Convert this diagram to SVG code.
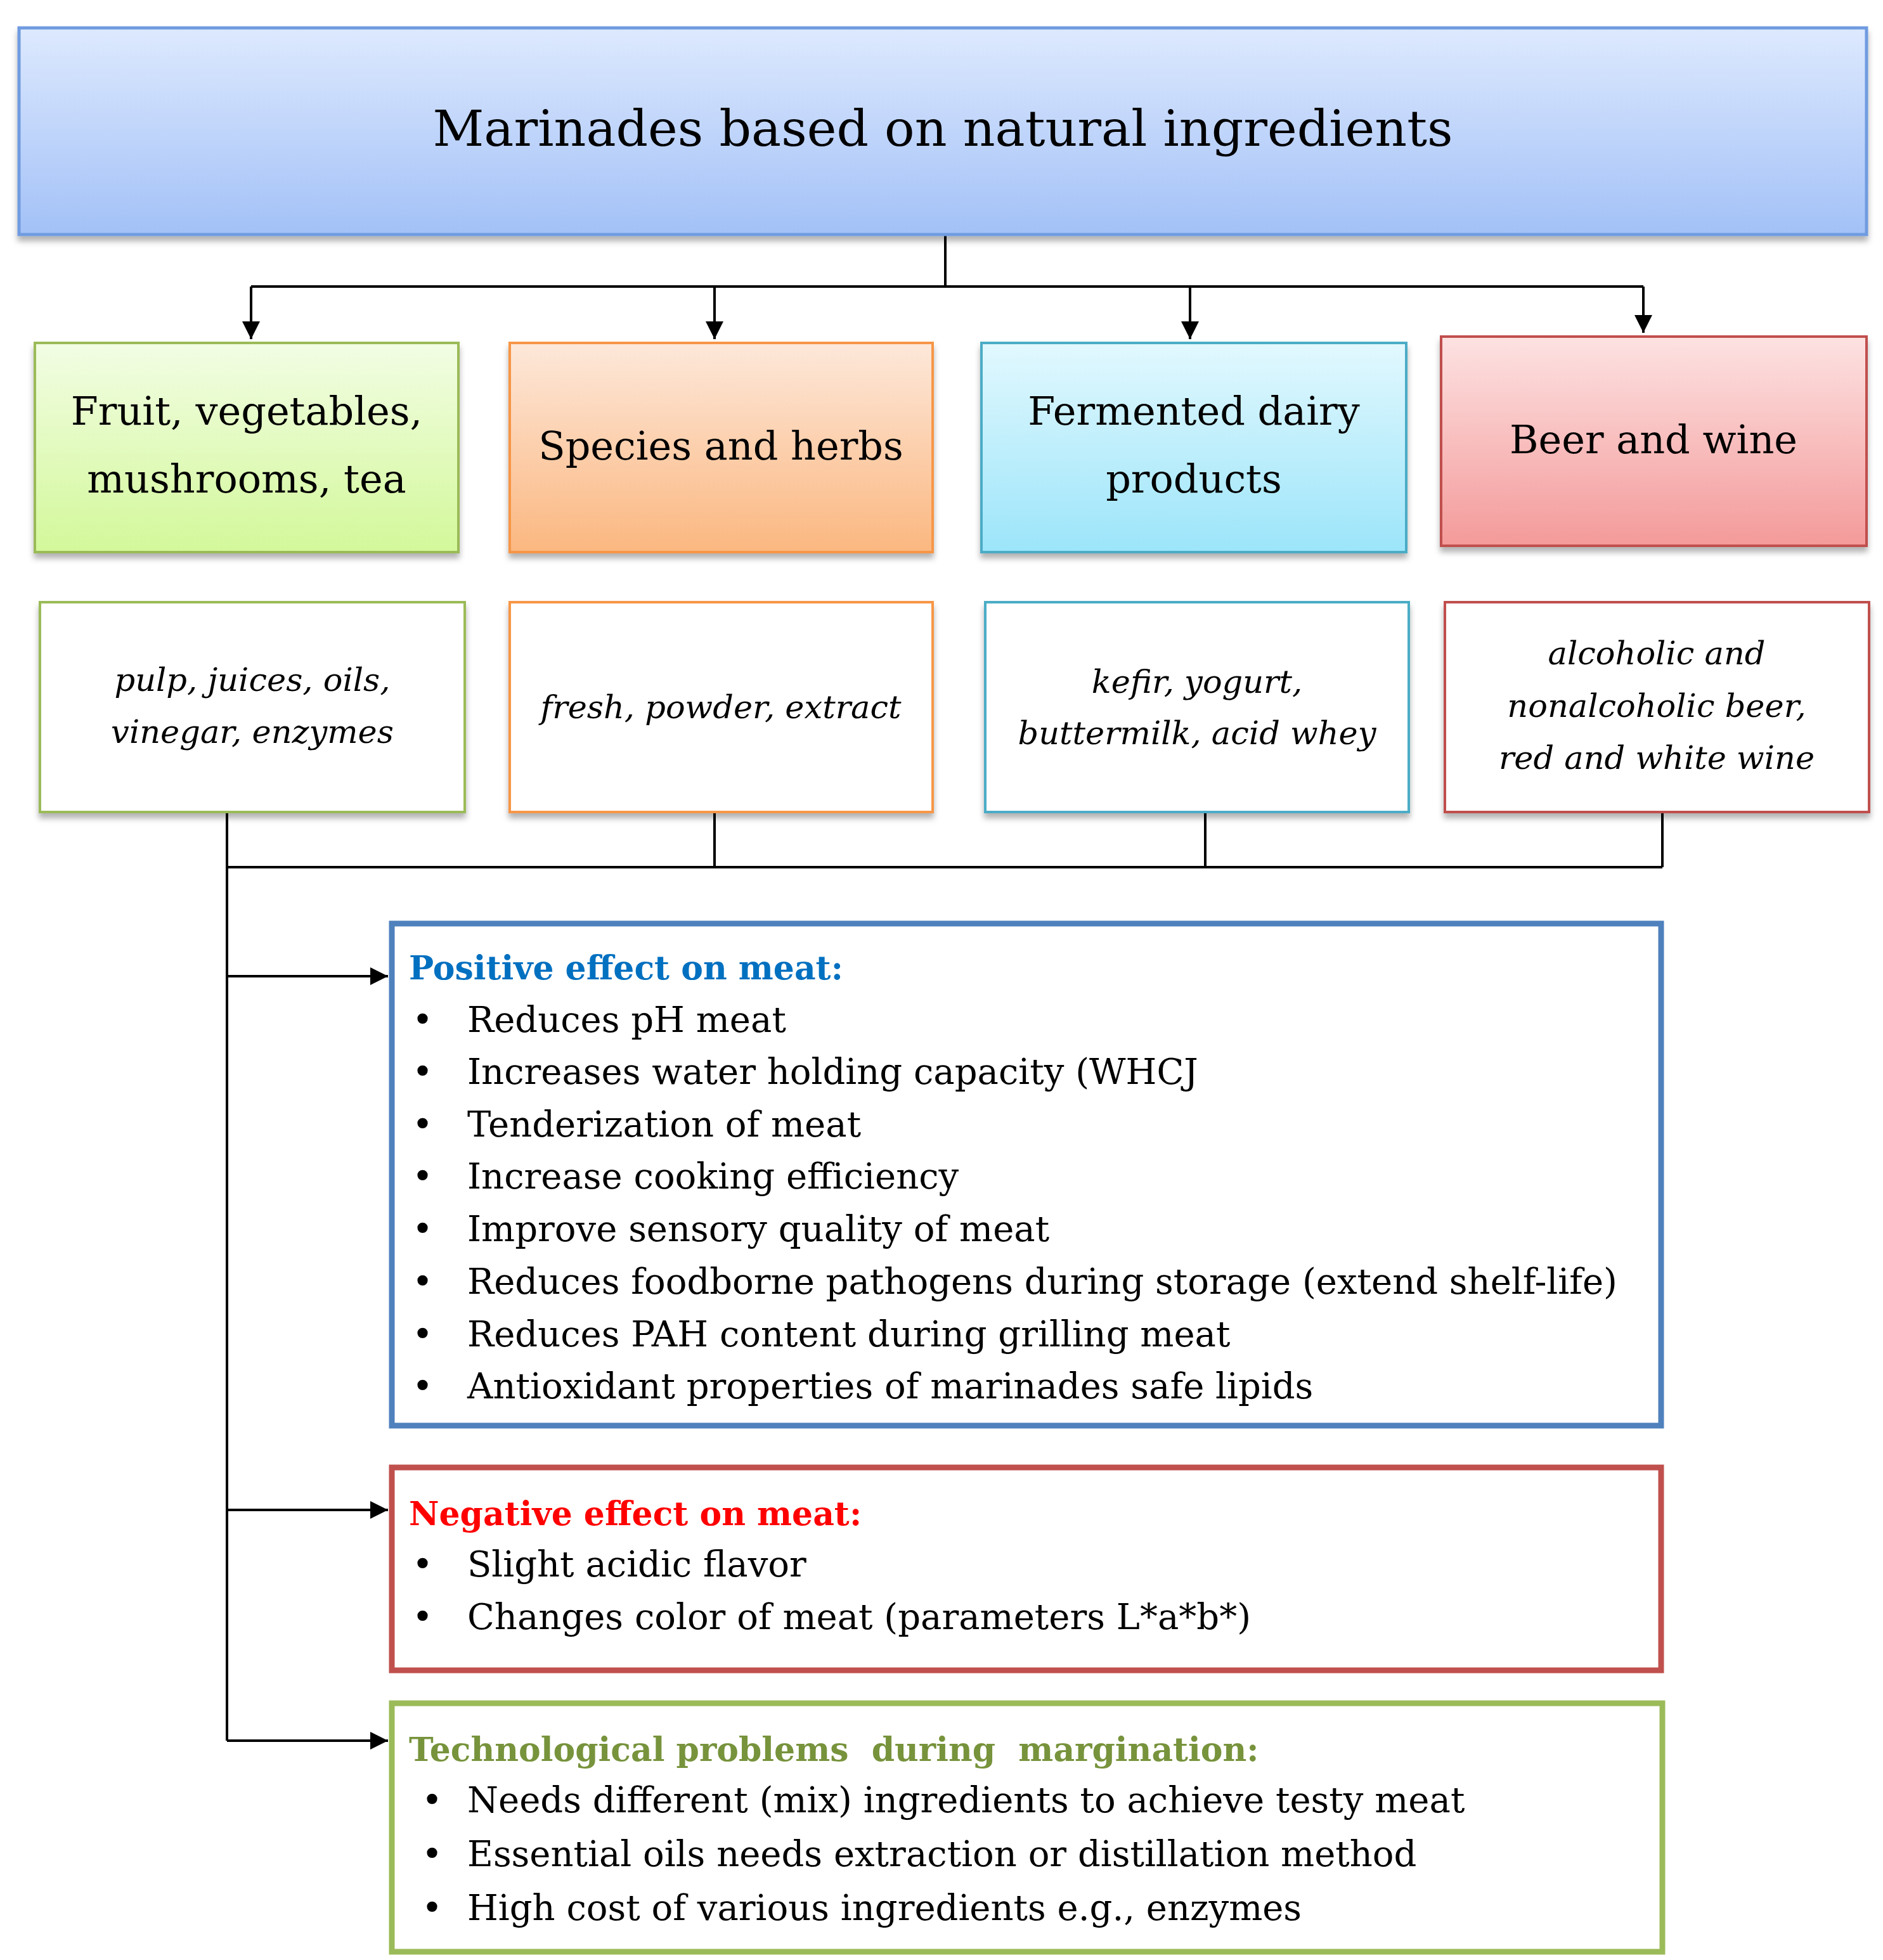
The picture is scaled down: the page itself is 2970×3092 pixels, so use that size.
<svg xmlns="http://www.w3.org/2000/svg" width="2970" height="3092" viewBox="0 0 2970 3092">
<defs>
<linearGradient id="gb" x1="0" y1="0" x2="0" y2="1"><stop offset="0" stop-color="#dde9fe"/><stop offset="1" stop-color="#a3c1f7"/></linearGradient>
<linearGradient id="gg" x1="0" y1="0" x2="0" y2="1"><stop offset="0" stop-color="#f2fde4"/><stop offset="1" stop-color="#d3f89a"/></linearGradient>
<linearGradient id="go" x1="0" y1="0" x2="0" y2="1"><stop offset="0" stop-color="#fde8da"/><stop offset="1" stop-color="#fbb780"/></linearGradient>
<linearGradient id="gc" x1="0" y1="0" x2="0" y2="1"><stop offset="0" stop-color="#e2f8fe"/><stop offset="1" stop-color="#9ce5fa"/></linearGradient>
<linearGradient id="gr" x1="0" y1="0" x2="0" y2="1"><stop offset="0" stop-color="#fde2e2"/><stop offset="1" stop-color="#f49a9a"/></linearGradient>
<filter id="sh" x="-5%" y="-5%" width="110%" height="120%"><feDropShadow dx="0" dy="8" stdDeviation="5" flood-color="#000" flood-opacity="0.3"/></filter>
<marker id="ar" viewBox="0 0 10 10" refX="10" refY="5" markerWidth="8" markerHeight="7" orient="auto" markerUnits="strokeWidth"><path d="M0,0 L10,5 L0,10 z" fill="#000"/></marker>
<style>
.t{font-family:"DejaVu Serif",serif;fill:#000}
.h{font-size:62px;text-anchor:middle}
.i{font-size:51px;font-style:italic;text-anchor:middle}
.b{font-size:56px}
.hd{font-size:52px;font-weight:bold}
.c{fill:none;stroke:#000;stroke-width:4}
</style>
</defs>
<g id="connectors">
<path class="c" d="M1491,370 V452 M396,452 H2592"/>
<path class="c" d="M396,452 V535" marker-end="url(#ar)"/>
<path class="c" d="M1127,452 V535" marker-end="url(#ar)"/>
<path class="c" d="M1877,452 V535" marker-end="url(#ar)"/>
<path class="c" d="M2592,452 V525" marker-end="url(#ar)"/>
<path class="c" d="M358,1281 V2746 M1127,1281 V1368 M1901,1281 V1368 M2622,1281 V1368 M358,1368 H2622"/>
<path class="c" d="M358,1540 H612" marker-end="url(#ar)"/>
<path class="c" d="M358,2382 H612" marker-end="url(#ar)"/>
<path class="c" d="M358,2746 H612" marker-end="url(#ar)"/>
</g>
<g id="top">
<rect x="30" y="44" width="2914" height="326" fill="url(#gb)" stroke="#6f9be0" stroke-width="5" filter="url(#sh)"/>
<text class="t" x="1487" y="230" text-anchor="middle" font-size="79">Marinades based on natural ingredients</text>
</g>
<g id="cat1"><rect x="55" y="541" width="668" height="330" fill="url(#gg)" stroke="#9bbb59" stroke-width="4" filter="url(#sh)"/>
<text class="t h" x="389" y="670">Fruit, vegetables,</text><text class="t h" x="389" y="777">mushrooms, tea</text></g>
<g id="cat2"><rect x="804" y="541" width="667" height="330" fill="url(#go)" stroke="#f79646" stroke-width="4" filter="url(#sh)"/>
<text class="t h" x="1137" y="725">Species and herbs</text></g>
<g id="cat3"><rect x="1548" y="541" width="670" height="330" fill="url(#gc)" stroke="#4bacc6" stroke-width="4" filter="url(#sh)"/>
<text class="t h" x="1883" y="670">Fermented dairy</text><text class="t h" x="1883" y="777">products</text></g>
<g id="cat4"><rect x="2273" y="531" width="671" height="330" fill="url(#gr)" stroke="#c0504d" stroke-width="4" filter="url(#sh)"/>
<text class="t h" x="2608" y="715">Beer and wine</text></g>
<g id="sub1"><rect x="63" y="950" width="670" height="331" fill="#fff" stroke="#9bbb59" stroke-width="4" filter="url(#sh)"/>
<text class="t i" x="398" y="1090">pulp, juices, oils,</text><text class="t i" x="398" y="1172">vinegar, enzymes</text></g>
<g id="sub2"><rect x="804" y="950" width="667" height="331" fill="#fff" stroke="#f79646" stroke-width="4" filter="url(#sh)"/>
<text class="t i" x="1137" y="1133">fresh, powder, extract</text></g>
<g id="sub3"><rect x="1554" y="950" width="668" height="331" fill="#fff" stroke="#4bacc6" stroke-width="4" filter="url(#sh)"/>
<text class="t i" x="1888" y="1093">kefir, yogurt,</text><text class="t i" x="1888" y="1174">buttermilk, acid whey</text></g>
<g id="sub4"><rect x="2279" y="950" width="669" height="331" fill="#fff" stroke="#c0504d" stroke-width="4" filter="url(#sh)"/>
<text class="t i" x="2613" y="1048">alcoholic and</text><text class="t i" x="2613" y="1131">nonalcoholic beer,</text><text class="t i" x="2613" y="1213">red and white wine</text></g>
<g id="positive">
<rect x="618" y="1457" width="2002" height="792" fill="#fff" stroke="#4f81bd" stroke-width="9"/>
<text class="t hd" x="645" y="1545" style="fill:#0070c0">Positive effect on meat:</text>
<g class="t b">
<text x="650" y="1628">•</text><text x="737" y="1628">Reduces pH meat</text>
<text x="650" y="1710">•</text><text x="737" y="1710">Increases water holding capacity (WHCJ</text>
<text x="650" y="1793">•</text><text x="737" y="1793">Tenderization of meat</text>
<text x="650" y="1875">•</text><text x="737" y="1875">Increase cooking efficiency</text>
<text x="650" y="1958">•</text><text x="737" y="1958">Improve sensory quality of meat</text>
<text x="650" y="2041">•</text><text x="737" y="2041">Reduces foodborne pathogens during storage (extend shelf-life)</text>
<text x="650" y="2124">•</text><text x="737" y="2124">Reduces PAH content during grilling meat</text>
<text x="650" y="2206">•</text><text x="737" y="2206">Antioxidant properties of marinades safe lipids</text>
</g></g>
<g id="negative">
<rect x="618" y="2315" width="2002" height="320" fill="#fff" stroke="#c0504d" stroke-width="9"/>
<text class="t hd" x="645" y="2406" style="fill:#ff0000">Negative effect on meat:</text>
<g class="t b">
<text x="650" y="2487">•</text><text x="737" y="2487">Slight acidic flavor</text>
<text x="650" y="2570">•</text><text x="737" y="2570">Changes color of meat (parameters L*a*b*)</text>
</g></g>
<g id="tech">
<rect x="618" y="2687" width="2004" height="392" fill="#fff" stroke="#9bbb59" stroke-width="9"/>
<text class="t hd" x="645" y="2778" style="fill:#77933c" xml:space="preserve">Technological problems  during  margination:</text>
<g class="t b">
<text x="665" y="2859">•</text><text x="737" y="2859">Needs different (mix) ingredients to achieve testy meat</text>
<text x="665" y="2944">•</text><text x="737" y="2944">Essential oils needs extraction or distillation method</text>
<text x="665" y="3029">•</text><text x="737" y="3029">High cost of various ingredients e.g., enzymes</text>
</g></g>
</svg>
